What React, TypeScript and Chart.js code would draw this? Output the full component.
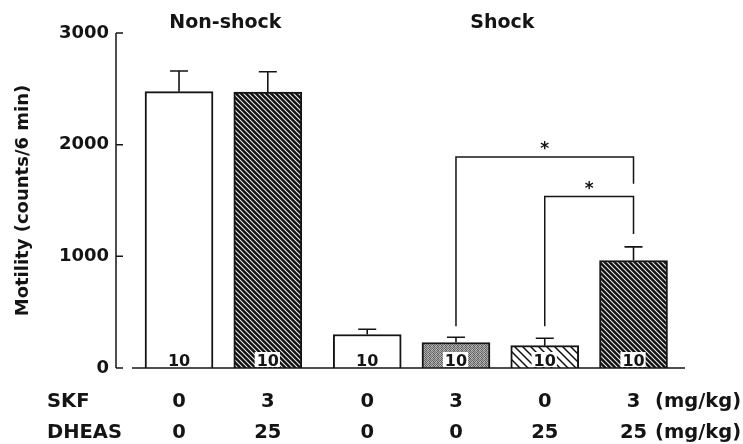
import React, { useEffect, useRef } from "react";
import { Chart, registerables } from "chart.js";
Chart.register(...registerables);

// ---- data ----
const GROUP_NAMES = ["Non-shock", "Shock"];
const GROUP_MEMBERS = [[0, 1], [2, 3, 4, 5]];
const MEANS = [2475, 2470, 300, 228, 200, 963];
const SEMS = [185, 183, 47, 48, 66, 122];
const N_LABELS = ["10", "10", "10", "10", "10", "10"];
const SKF = ["0", "3", "0", "3", "0", "3"];
const DHEAS = ["0", "25", "0", "0", "25", "25"];
const ROW_LABELS = ["SKF", "DHEAS"];
const UNIT_LABEL = "(mg/kg)";
const Y_TICKS = [0, 1000, 2000, 3000];
const Y_TICK_LABELS = ["0", "1000", "2000", "3000"];
const Y_TITLE = "Motility (counts/6 min)";
const BRACKET_FROM = [3, 4];
const BRACKET_TO = [5, 5];
const BRACKET_Y = [1890, 1535];
const BRACKET_FROM_END = [375, 375];
const BRACKET_TO_END = [1650, 1200];
const BRACKET_LABEL = ["*", "*"];

// ---- styles ----
const FILL_KIND = ["white", "dense", "white", "stipple", "sparse", "dense"];
const GROUP_GAP = 0.12;
const INK = "#141414";
const FONT_FAMILY = "'DejaVu Sans', sans-serif";

function hatch(period: number, bg: string, fg: string, lw: number) {
  const c = document.createElement("canvas");
  c.width = period;
  c.height = period;
  const g = c.getContext("2d")!;
  g.fillStyle = bg;
  g.fillRect(0, 0, period, period);
  g.strokeStyle = fg;
  g.lineWidth = lw;
  g.beginPath();
  g.moveTo(-1, -1);
  g.lineTo(period + 1, period + 1);
  g.moveTo(period - 2, -2);
  g.lineTo(period + 2, 2);
  g.moveTo(-2, period - 2);
  g.lineTo(2, period + 2);
  g.stroke();
  return g.createPattern(c, "repeat")!;
}

function stipple() {
  const c = document.createElement("canvas");
  c.width = 4;
  c.height = 4;
  const g = c.getContext("2d")!;
  const m = [0x5c, 0xb8, 0x70, 0xa4, 0xc8, 0x50, 0xb0, 0x68, 0x78, 0xa0, 0x58, 0xc0, 0xb0, 0x64, 0x9c, 0x7c];
  const img = g.createImageData(4, 4);
  for (let i = 0; i < 16; i++) {
    img.data[i * 4] = m[i];
    img.data[i * 4 + 1] = m[i];
    img.data[i * 4 + 2] = m[i];
    img.data[i * 4 + 3] = 255;
  }
  g.putImageData(img, 0, 0);
  return g.createPattern(c, "repeat")!;
}

const pos = (i: number) => i + (i >= 2 ? GROUP_GAP : 0);

export default function App() {
  const ref = useRef<HTMLCanvasElement>(null);

  useEffect(() => {
    const canvas = ref.current!;
    const fills = FILL_KIND.map((k) => {
      if (k === "dense") return hatch(5, "#111", "#eeeeee", 1.1);
      if (k === "sparse") return hatch(8, "#fff", "#111", 1.5);
      if (k === "stipple") return stipple();
      return "#ffffff";
    });

    const annot = {
      id: "annot",
      afterDatasetsDraw(chart: any) {
        const ctx = chart.ctx as CanvasRenderingContext2D;
        const ys = chart.scales.y;
        const area = chart.chartArea;
        const meta = chart.getDatasetMeta(0);
        const y0 = ys.getPixelForValue(0);
        const yTop = ys.getPixelForValue(Y_TICKS[Y_TICKS.length - 1]);
        ctx.save();
        ctx.strokeStyle = INK;
        ctx.fillStyle = INK;
        ctx.lineCap = "butt";

        // y axis line with inward ticks
        ctx.lineWidth = 1.5;
        ctx.beginPath();
        ctx.moveTo(area.left, yTop);
        ctx.lineTo(area.left, y0);
        for (const t of Y_TICKS) {
          const py = ys.getPixelForValue(t);
          ctx.moveTo(area.left, py);
          ctx.lineTo(area.left + 7, py);
        }
        ctx.stroke();

        // baseline
        ctx.beginPath();
        ctx.moveTo(area.left + 16, y0);
        ctx.lineTo(area.right, y0);
        ctx.stroke();

        // error bars
        ctx.lineWidth = 1.6;
        MEANS.forEach((m, i) => {
          const x = meta.data[i].x;
          const yb = ys.getPixelForValue(m);
          const ye = ys.getPixelForValue(m + SEMS[i]);
          ctx.beginPath();
          ctx.moveTo(x, yb);
          ctx.lineTo(x, ye);
          ctx.moveTo(x - 9, ye);
          ctx.lineTo(x + 9, ye);
          ctx.stroke();
        });

        // n labels
        ctx.font = `bold 16px ${FONT_FAMILY}`;
        ctx.textAlign = "center";
        ctx.textBaseline = "alphabetic";
        N_LABELS.forEach((t, i) => {
          const x = meta.data[i].x;
          const w = ctx.measureText(t).width;
          if (FILL_KIND[i] !== "white") {
            ctx.fillStyle = "#fff";
            ctx.fillRect(x - w / 2 - 2, y0 - 16, w + 3, 15);
          }
          ctx.fillStyle = INK;
          ctx.fillText(t, x, y0 - 2);
        });

        // significance brackets
        ctx.lineWidth = 1.5;
        ctx.font = `bold 17px ${FONT_FAMILY}`;
        BRACKET_Y.forEach((by, k) => {
          const xa = meta.data[BRACKET_FROM[k]].x;
          const xb = meta.data[BRACKET_TO[k]].x;
          const py = ys.getPixelForValue(by);
          ctx.beginPath();
          ctx.moveTo(xa, ys.getPixelForValue(BRACKET_FROM_END[k]));
          ctx.lineTo(xa, py);
          ctx.lineTo(xb, py);
          ctx.lineTo(xb, ys.getPixelForValue(BRACKET_TO_END[k]));
          ctx.stroke();
          ctx.textAlign = "center";
          ctx.fillText(BRACKET_LABEL[k], (xa + xb) / 2, py - 3);
        });

        // group names
        ctx.font = `bold 19px ${FONT_FAMILY}`;
        GROUP_NAMES.forEach((g, k) => {
          const xs = GROUP_MEMBERS[k].map((i) => meta.data[i].x);
          const cx = xs.reduce((a, b) => a + b, 0) / xs.length;
          ctx.fillText(g, cx + 2, area.top - 5);
        });

        // table below
        ctx.font = `bold 19.5px ${FONT_FAMILY}`;
        const rows = [SKF, DHEAS];
        rows.forEach((row, r) => {
          const by = y0 + 39 + r * 31;
          ctx.textAlign = "left";
          ctx.fillText(ROW_LABELS[r], 47, by);
          ctx.textAlign = "center";
          row.forEach((v, i) => ctx.fillText(v, meta.data[i].x, by));
          ctx.textAlign = "left";
          ctx.fillText(UNIT_LABEL, area.right - 30, by);
        });
        ctx.restore();
      },
    };

    const chart = new Chart(canvas, {
      type: "bar",
      data: {
        datasets: [
          {
            data: MEANS.map((v, i) => ({ x: pos(i), y: v })),
            backgroundColor: fills as any,
            borderColor: INK,
            borderWidth: 2,
            barThickness: 68,
          } as any,
        ],
      },
      options: {
        animation: false,
        responsive: false,
        layout: { padding: { top: 33, right: 58, bottom: 76, left: 0 } },
        plugins: {
          legend: { display: false },
          tooltip: { enabled: false },
        },
        scales: {
          x: { type: "linear", min: -0.71, max: 5.7, offset: false, display: false },
          y: {
            min: 0,
            max: 3000,
            afterFit: (s: any) => {
              s.width = 116;
            },
            afterBuildTicks: (s: any) => {
              s.ticks = Y_TICKS.map((v) => ({ value: v }));
            },
            grid: { display: false, drawTicks: false },
            border: { display: false },
            ticks: {
              color: INK,
              padding: 7,
              font: { family: FONT_FAMILY, weight: "bold", size: 18 },
              callback: (v: any) => {
                const i = Y_TICKS.indexOf(Number(v));
                return i >= 0 ? Y_TICK_LABELS[i] : "";
              },
            },
            title: {
              display: true,
              text: Y_TITLE,
              color: INK,
              padding: { top: 13, bottom: 0 },
              font: { family: FONT_FAMILY, weight: "bold", size: 18 },
            },
          },
        },
      } as any,
      plugins: [annot],
    });
    return () => chart.destroy();
  }, []);

  return (
    <div style={{ position: "fixed", left: 0, top: 0, width: 743, height: 444, background: "#fff" }}>
      <canvas ref={ref} width={743} height={444} style={{ display: "block" }} />
    </div>
  );
}
